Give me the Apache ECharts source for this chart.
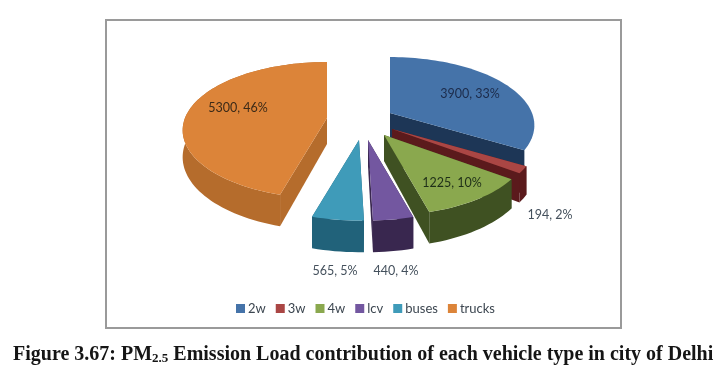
<!DOCTYPE html>
<html><head><meta charset="utf-8">
<style>html,body{margin:0;padding:0;background:#fff}#c{width:725px;height:381px}</style>
<script src="https://cdn.jsdelivr.net/npm/echarts@6/dist/echarts.min.js"></script>
</head><body><div id="c"></div>
<script>
const categories = ['2w','3w','4w','lcv','buses','trucks'];
const values = [3900,194,1225,440,565,5300];
const percents = [33,2,10,4,5,46];

// layout and styling (separate from data)
const topColors  = ['#4573a9','#aa4644','#8aa84e','#7357a0','#3f9bb9','#dc8439'];
const sideColors = ['#1d3656','#5b1a1c','#3f5122','#39274f','#21627a','#b56c2c'];
const apexes = [[390,113],[392,129],[384,135],[368,140],[359,140],[327,118]];
const arcSide = [false,true,true,true,true,true];
const labelPos = [[470,94],[550,215],[452,183],[396,271],[335,271],[238,108]];
const labelColor = ['#1c2b4a','#44505c','#1f2f18','#44505c','#44505c','#3b2a18'];
const RX=142, RY=66, K=0.18, DEPTH=26;

const total = values.reduce((a,b)=>a+b,0);
const proj = (apex,deg,r,drop)=>{
  const a=deg*Math.PI/180, x=Math.sin(a)*r, y=-Math.cos(a)*r, s=1/(1-K*y);
  return [apex[0]+RX*x*s, apex[1]+RY*y*s+(drop?DEPTH*s:0)];
};
let cum=0;
const spans = values.map(v=>{const s=cum; cum+=v/total*360; return [s,cum];});

function renderSlice(i){
  return function(){
    const [a0,a1]=spans[i], ap=apexes[i], steps=Math.max(4,Math.ceil((a1-a0)/2));
    const rim=[],rimLow=[];
    for(let k=0;k<=steps;k++){
      const d=a0+(a1-a0)*k/steps;
      rim.push(proj(ap,d,1,false)); rimLow.push(proj(ap,d,1,true));
    }
    const apLow=proj(ap,0,0,true);
    const poly=(pts,fill)=>({type:'polygon',shape:{points:pts},style:{fill:fill,stroke:null}});
    const kids=[];
    kids.push(poly([ap,rim[0],rimLow[0],apLow],sideColors[i]));
    kids.push(poly([ap,rim[steps],rimLow[steps],apLow],sideColors[i]));
    if(arcSide[i]) kids.push(poly(rim.concat(rimLow.slice().reverse()),sideColors[i]));
    kids.push(poly([ap].concat(rim),topColors[i]));
    kids.push({type:'text',z2:10,style:{
      x:labelPos[i][0],y:labelPos[i][1],text:values[i]+', '+percents[i]+'%',
      align:'center',verticalAlign:'middle',fill:labelColor[i],
      font:'12.5px Lato, "Open Sans", sans-serif'}});
    return {type:'group',children:kids};
  };
}

const chart=echarts.init(document.getElementById('c'));
chart.setOption({
  animation:false,
  backgroundColor:'#ffffff',
  title:{
    text:'{b|Figure 3.67: PM}{s|2.5}{b| Emission Load contribution of each vehicle type in city of Delhi}',
    left:8,top:340,
    textStyle:{rich:{
      b:{fontFamily:'Liberation Serif',fontWeight:'bold',fontSize:20,color:'#151515'},
      s:{fontFamily:'Liberation Serif',fontWeight:'bold',fontSize:13,color:'#151515',verticalAlign:'bottom',padding:[6,0,0,0]}
    }}
  },
  legend:{
    data:categories,left:231,top:297,icon:'rect',itemWidth:9,itemHeight:9,itemGap:10,
    textStyle:{fontFamily:'Lato',fontSize:13,color:'#3c4650',padding:[0,0,0,-2]}
  },
  graphic:[{type:'rect',z:-1,shape:{x:106,y:20,width:515,height:308},
    style:{fill:'#fff',stroke:'#9a9a9a',lineWidth:2}}],
  series:categories.map((name,i)=>({
    type:'custom',name:name,coordinateSystem:'none',
    itemStyle:{color:topColors[i]},
    data:[[values[i]]],
    renderItem:renderSlice(i)
  }))
});
</script></body></html>
